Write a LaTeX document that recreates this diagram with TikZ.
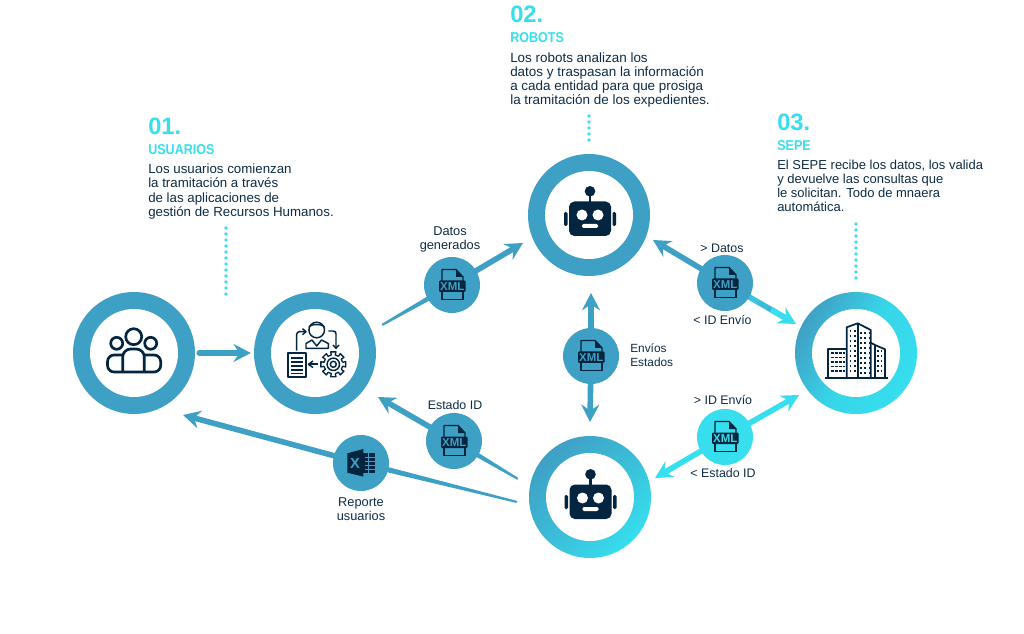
\documentclass[tikz,border=0pt]{standalone}
\usepackage{fontspec}
\setmainfont{Liberation Sans}
\newfontfamily\narrowbold[FakeStretch=0.88]{Liberation Sans Bold}
\usetikzlibrary{arrows.meta,calc}
\definecolor{blu}{HTML}{3FA0C5}
\definecolor{cya}{HTML}{36DEEE}
\definecolor{nav}{HTML}{03253F}
\definecolor{txt}{HTML}{0D2B45}
\newcommand{\taperline}[3]{\fill[#1,rounded corners=0.5pt] ($(#2)!2.2pt!90:(#3)$) -- ($(#3)!0.8pt!-90:(#2)$) -- ($(#3)!0.8pt!90:(#2)$) -- ($(#2)!2.2pt!-90:(#3)$) -- cycle;}
\tikzset{
 x=0.75pt,y=-0.75pt,
 ringo/.style={circle,inner sep=0,minimum size=91.5pt},
 ringi/.style={circle,inner sep=0,minimum size=66pt,fill=white},
 badge/.style={circle,inner sep=0,minimum size=42pt,fill=#1},
 conn/.style={line width=4.2pt,color=#1,line cap=round},
 headtip/.style={-{Stealth[length=13pt,width=13.5pt,inset=4.5pt]}},
 lbl/.style={font=\fontsize{9.3}{10.5}\selectfont,text=txt,align=center,inner sep=0},
 body/.style={font=\fontsize{#1}{10.55}\selectfont,text=txt,align=left,inner sep=0,anchor=north west},
 numb/.style={font=\fontsize{17.8}{20}\selectfont\bfseries,text=cya,inner sep=0,anchor=base west},
 ttl/.style={font=\fontsize{10.7}{11}\narrowbold,text=cya,inner sep=0,anchor=base west},
 dotsline/.style={line width=2.7pt,color=cya,line cap=round,dash pattern=on 0pt off 4.5pt},
 ico/.style={draw=nav,line width=2pt},
 thinico/.style={draw=nav,line width=1.1pt},
 pics/xmlicon/.style={code={
   \draw[nav,line width=1.1pt,line join=round] (-10,-4) -- (-10,-15.5) -- (4,-15.5) -- (11,-8) -- (11,-4);
   \draw[nav,line width=1.1pt] (-10,7) -- (-10,14.5) -- (11,14.5) -- (11,7);
   \fill[nav] (4,-15.5) -- (11,-8) -- (4,-8) -- cycle;
   \fill[nav,rounded corners=0.8pt] (-13,-4.5) rectangle (13.5,7);
   \node[inner sep=0,font=\fontsize{8.6}{9}\selectfont\bfseries,text=#1] (-t) at (0.3,1.3) {XML};
 }},
 pics/roboticon/.style={code={
   \fill[nav] (0,-23.7) circle (5.3);
   \fill[nav] (-1.3,-23) rectangle (1.3,-12);
   \fill[nav,rounded corners=4pt] (-21,-13.5) rectangle (21,21);
   \fill[nav,rounded corners=1pt] (-26,-3) rectangle (-22.5,11);
   \fill[nav,rounded corners=1pt] (22.5,-3) rectangle (26,11);
   \fill[white] (-8,0) circle (5.5) (8,0) circle (5.5);
   \fill[white,rounded corners=1pt] (-8,9) rectangle (8,13);
 }}
}
\begin{document}
\begin{tikzpicture}
\useasboundingbox (0,0) rectangle (1024,634);
% rings
\node[ringo,fill=blu] (usr) at (134,353) {};
\node[ringo,fill=blu] (hr) at (315,353) {};
\node[ringo,fill=blu] (robA) at (589,215) {};
\node[ringo,top color=blu,bottom color=cya,middle color=blu!55!cya,shading angle=45] (robB) at (590,497) {};
\node[ringo,top color=blu,bottom color=cya,middle color=cya!85!blu,shading angle=60] (sepe) at (856,353) {};
\node[ringi] (usrI) at (usr) {};
\node[ringi] (hrI) at (hr) {};
\node[ringi] (robAI) at (robA) {};
\node[ringi] (robBI) at (robB) {};
\node[ringi] (sepeI) at (sepe) {};
% connector end points
\coordinate (t1s) at (382,325);
\coordinate (t1e) at (523,243);
\coordinate (t2a) at (653,240);
\coordinate (t2b) at (796,324);
\coordinate (t3a) at (591,293);
\coordinate (t3b) at (590,422);
\coordinate (t4a) at (799,395);
\coordinate (t4b) at (655,478);
\coordinate (t5s) at (518,479);
\coordinate (t5e) at (378,397);
\coordinate (t6s) at (517,502);
\coordinate (t6e) at (183,415);
\coordinate (bA) at (452,285);
\coordinate (bB) at (725,283);
\coordinate (bC) at (591,356);
\coordinate (bD) at (725,437);
\coordinate (bE) at (454,441);
\coordinate (bF) at (361,463);
% connectors
\draw[conn=blu,headtip,shorten <=3pt,shorten >=2.2pt] (usr.east) -- (hr.west);
\taperline{blu}{bA}{t1s}
\draw[conn=blu,headtip,line cap=butt] (bA) -- (t1e);
\draw[conn=blu,headtip,line cap=butt] (bB) -- (t2a);
\foreach \p/\q/\r in {0/15/90,15/30/75,30/45/60,45/60/45,60/75/30,75/90/15}
  \draw[line width=4.2pt,color=cya!\r!blu] ($(bB)!0.\p!(t2b)$) -- ($(bB)!0.\q!(t2b)$);
\draw[conn=cya,headtip,line cap=butt] ($(bB)!0.65!(t2b)$) -- (t2b);
\draw[conn=blu,headtip,line cap=butt] (bC) -- (t3a);
\draw[conn=blu,headtip,line cap=butt] (bC) -- (t3b);
\draw[conn=cya,headtip,line cap=butt] (bD) -- (t4a);
\draw[conn=cya,headtip,line cap=butt] (bD) -- (t4b);
\taperline{blu}{bE}{t5s}
\draw[conn=blu,headtip,line cap=butt] (bE) -- (t5e);
\taperline{blu}{bF}{t6s}
\draw[conn=blu,headtip,line cap=butt] (bF) -- (t6e);
% badges
\node[badge=blu] (b1) at (bA) {};
\node[badge=blu] (b2) at (bB) {};
\node[badge=blu] (b3) at (bC) {};
\node[badge=cya] (b4) at (bD) {};
\node[badge=blu] (b5) at (bE) {};
\node[badge=blu] (b6) at (bF) {};
\pic (x1) at (b1) {xmlicon=blu};
\pic (x2) at (b2) {xmlicon=blu};
\pic (x3) at (b3) {xmlicon=blu};
\pic (x4) at (b4) {xmlicon=cya};
\pic (x5) at (b5) {xmlicon=blu};
% excel icon
\fill[nav] (347.3,453.3) -- (363.3,449) -- (363.3,476.7) -- (347.3,472.7) -- cycle;
\fill[nav] (363.3,453.3) rectangle (375,473.3);
\foreach \y in {457,461,465,469} \draw[blu,line width=0.7pt] (364.5,\y) -- (375,\y);
\draw[blu,line width=0.7pt] (368.5,453.3) -- (368.5,473.3);
\node[inner sep=0,font=\fontsize{11}{12}\selectfont\bfseries,text=blu] (xlsX) at (355,463) {X};
% robots
\pic (rA) at (590,215) {roboticon};
\pic (rB) at (590.5,498) {roboticon};
% people icon
\begin{scope}[ico,line join=round]
\draw (133.7,336.7) circle (8);
\draw (116.7,343.3) circle (6);
\draw (150.7,343.3) circle (6);
\draw[rounded corners=5pt] (122.7,355) -- (107.5,355) -- (107.5,372) -- (160.7,372) -- (160.7,355) -- (144.3,355);
\draw[rounded corners=6pt] (122.7,372) -- (122.7,349) -- (144.3,349) -- (144.3,372);
\end{scope}
% process icon
\begin{scope}[thinico,line join=round]
\draw[line width=1.4pt] (287.7,353.3) rectangle (306,377.3);
\foreach \y in {358,362,366,370,373.5} \draw (291,\y) -- (303,\y);
\draw[line width=1.6pt] (308.5,364.3) -- (318.3,364.3);
\draw[line width=1.1pt] (313,361) -- (308.5,364.3) -- (313,367.6);
\draw[rounded corners=2pt] (296.7,350.7) -- (296.7,331.7) -- (305.5,331.7);
\draw (302.5,328.7) -- (306,331.7) -- (302.5,334.7);
\draw[rounded corners=2pt] (328.3,331) -- (336,331) -- (336,348);
\draw (333,345) -- (336,348.3) -- (339,345);
\draw (316.7,330) circle (7.8);
\draw (309,327.5) arc (180:360:7.7 and 3);
\draw[line join=round] (306,348.3) -- (306,343.5) -- (312,340) -- (316.7,346) -- (321.5,340) -- (328.3,343.5) -- (328.3,348.3) -- cycle;
\draw (333.3,364.3) circle (6.2) (333.3,364.3) circle (3);
\foreach \a in {0,45,...,315}
  \draw[line width=1pt] ($(333.3,364.3)+(\a-12:9.5)$) -- ($(333.3,364.3)+(\a-12:12.7)$) -- ($(333.3,364.3)+(\a+12:12.7)$) -- ($(333.3,364.3)+(\a+12:9.5)$) -- ($(333.3,364.3)+(\a+33:9.5)$);
\end{scope}
% building icon
\begin{scope}[thinico,line join=round]
\draw[line width=1.5pt] (825.3,378) -- (887.7,378);
\draw[line width=1.3pt] (828.3,378) -- (828.3,349.3) -- (846.7,349.3);
\draw[line width=1.3pt] (846.7,378) -- (846.7,327.3) -- (857.7,323.3) -- (870.7,330) -- (870.7,378);
\draw[line width=1.3pt] (857.7,323.3) -- (857.7,378);
\draw[line width=1.3pt] (870.7,342.7) -- (875,345) -- (885,349.3) -- (885,378);
\draw[line width=1pt] (875,345) -- (875,378);
\foreach \y in {353,357.5,362,366.5,371} \draw[line width=1.2pt,dash pattern=on 2.4pt off 0.6pt] (830.5,\y) -- (845,\y);
\foreach \y in {331,336,341,346,351,356,361,366,371} \draw[line width=1.2pt,dash pattern=on 1.2pt off 2.3pt] (849.5,\y) -- (856.5,\y);
\foreach \y in {333,338,343,348,353,358,363,368,373} \draw[line width=1.2pt,dash pattern=on 1.2pt off 2.1pt] (860,\y) -- (869.5,\y);
\foreach \y in {351,356,361,366,371} \draw[line width=1.1pt,dash pattern=on 1.2pt off 1.7pt] (877,\y) -- (884,\y);
\end{scope}
% dotted lines
\coordinate (d1a) at (226,228); \coordinate (d1b) at (226,297);
\coordinate (d2a) at (589,116); \coordinate (d2b) at (589,143);
\coordinate (d3a) at (856,224); \coordinate (d3b) at (856,281);
\draw[dotsline] (d1a) -- (d1b);
\draw[dotsline] (d2a) -- (d2b);
\draw[dotsline] (d3a) -- (d3b);
% heading texts
\node[numb] (n1) at (148,135) {01.};
\node[ttl] (h1) at (148,155) {USUARIOS};
\node[body=9.97] (t1) at (148,164) {Los usuarios comienzan\\la tramitación a través\\de las aplicaciones de\\gestión de Recursos Humanos.};
\node[numb] (n2) at (510,23) {02.};
\node[ttl] (h2) at (510,43) {ROBOTS};
\node[body=10.08] (t2) at (510,52) {Los robots analizan los\\datos y traspasan la información\\a cada entidad para que prosiga\\la tramitación de los expedientes.};
\node[numb] (n3) at (777,131) {03.};
\node[ttl] (h3) at (777,151) {SEPE};
\node[body=9.74] (t3) at (777,159.5) {El SEPE recibe los datos, los valida\\y devuelve las consultas que\\le solicitan. Todo de mnaera\\automática.};
% connector labels
\node[lbl,font=\fontsize{9.6}{10.5}\selectfont] (l1) at (450,239) {Datos\\generados};
\node[lbl] (l2) at (722,248) {> Datos};
\node[lbl] (l3) at (722.5,320) {< ID Envío};
\node[lbl,font=\fontsize{8.9}{10.5}\selectfont,align=left,anchor=west] (l4) at (630,355) {Envíos\\Estados};
\node[lbl] (l5) at (723,400) {> ID Envío};
\node[lbl] (l6) at (723,473) {< Estado ID};
\node[lbl] (l7) at (455,405) {Estado ID};
\node[lbl,font=\fontsize{9.6}{10.5}\selectfont] (l8) at (361,509) {Reporte\\usuarios};
\end{tikzpicture}
\end{document}
